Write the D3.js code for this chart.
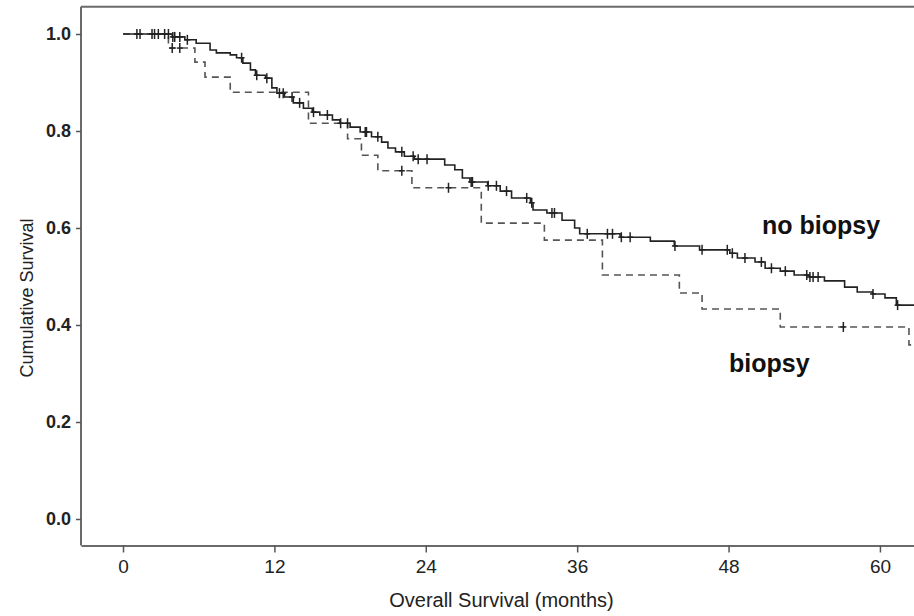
<!DOCTYPE html>
<html>
<head>
<meta charset="utf-8">
<script src="https://cdn.jsdelivr.net/npm/d3@7"></script>
<style>
body { margin: 0; background: #fff; }
svg { display: block; font-family: "Liberation Sans", Arial, sans-serif; }
</style>
</head>
<body>
<svg width="914" height="616"></svg>
<script>
// x ticks (months) and y ticks (cumulative survival)
var monthTicks = [0, 12, 24, 36, 48, 60];
var survivalTicks = [0.0, 0.2, 0.4, 0.6, 0.8, 1.0];

// no biopsy: [month of event, survival after the step]
var noBiopsySteps = [
    [0, 1.0], [3.9, 0.994], [4.9, 0.988], [5.8, 0.981], [6.9, 0.967], [7.4, 0.961],
    [8.5, 0.957], [9.0, 0.951], [9.5, 0.940], [10.1, 0.926], [10.5, 0.915], [11.3, 0.909],
    [11.8, 0.889], [12.2, 0.878], [12.8, 0.870], [13.5, 0.858], [14.3, 0.847], [15.0, 0.839],
    [15.6, 0.833], [16.6, 0.823], [17.2, 0.816], [18.0, 0.808], [18.8, 0.798], [19.7, 0.788],
    [20.5, 0.777], [21.0, 0.765], [21.6, 0.757], [22.3, 0.748], [23.1, 0.742], [25.5, 0.730],
    [26.3, 0.720], [26.9, 0.703], [27.5, 0.695], [28.9, 0.687], [29.9, 0.676], [30.8, 0.662],
    [32.3, 0.652], [32.5, 0.637], [33.6, 0.631], [34.8, 0.616], [35.8, 0.600], [36.2, 0.588],
    [39.4, 0.581], [41.8, 0.573], [43.7, 0.563], [45.7, 0.555], [48.1, 0.548], [48.7, 0.538],
    [50.1, 0.530], [50.9, 0.517], [52.1, 0.511], [53.2, 0.503], [54.4, 0.499], [55.6, 0.491],
    [57.2, 0.478], [58.2, 0.468], [59.4, 0.464], [60.4, 0.456], [61.3, 0.441], [62.7, 0.441]
];
var noBiopsyCensored = [
    1.1, 1.35, 2.3, 2.5, 2.8, 3.3, 3.6, 3.95, 4.1, 4.5, 5.1,
    9.4, 10.6, 11.4, 12.4, 12.7, 13.4, 14.0, 15.1, 16.2, 17.25, 17.8,
    19.2, 19.3, 20.2, 22.1, 23.0, 23.4, 24.1, 27.6, 27.7, 28.95, 29.6, 30.4, 32.0, 32.4,
    34.0, 34.2, 36.8, 38.4, 38.8, 39.5, 40.2, 43.75, 45.9, 47.9, 48.3, 49.3, 50.6, 51.4,
    52.5, 54.2, 54.45, 54.7, 55.1, 59.45, 61.4
];

// biopsy
var biopsySteps = [
    [0, 1.0], [3.6, 0.971], [5.7, 0.942], [6.5, 0.911], [8.5, 0.880], [14.7, 0.816],
    [17.8, 0.784], [18.9, 0.750], [20.2, 0.718], [22.9, 0.683], [28.4, 0.610],
    [33.4, 0.575], [38.0, 0.503], [44.1, 0.466], [45.9, 0.433], [52.1, 0.396],
    [62.3, 0.359], [62.7, 0.359]
];
var biopsyCensored = [3.9, 4.5, 22.1, 25.8, 57.1];

var groupLabels = ["no biopsy", "biopsy"];

var svg = d3.select("svg");

var x = d3.scaleLinear().domain([-3.33, 62.7]).range([81, 914]);
var y = d3.scaleLinear().domain([0, 1]).range([519, 34]);
var yBottom = -0.0546;
var yTop = 1.056;

function survivalAt(steps, t)
{
    var s = steps[0][1];
    for (var i = 0; i < steps.length; i++)
    {
        if (steps[i][0] <= t) s = steps[i][1];
    }
    return s;
}

function drawAxes()
{
    var xAxis = svg.append("g")
        .attr("transform", "translate(0," + y(yBottom) + ")")
        .call(d3.axisBottom(x).tickValues(monthTicks).tickSize(7).tickPadding(7).tickSizeOuter(0));
    var yAxis = svg.append("g")
        .attr("transform", "translate(" + x.range()[0] + ",0)")
        .call(d3.axisLeft(y).tickValues(survivalTicks).tickFormat(d3.format(".1f")).tickSize(5).tickPadding(5).tickSizeOuter(0));

    [xAxis, yAxis].forEach(function(g)
    {
        g.select(".domain").attr("stroke", "#6a6a6a").attr("stroke-width", 2);
        g.selectAll(".tick line").attr("stroke", "#555").attr("stroke-width", 1.5);
        g.selectAll(".tick text").attr("fill", "#222")
            .attr("font-family", "'Liberation Sans', Arial, sans-serif");
    });
    yAxis.select(".domain").attr("d", "M0," + y(yTop) + "V" + y(yBottom));
    xAxis.selectAll(".tick text").attr("font-size", 19);
    yAxis.selectAll(".tick text").attr("font-size", 18).attr("font-weight", "bold");

    // top frame line
    svg.append("line")
        .attr("x1", x.range()[0]).attr("x2", x.range()[1])
        .attr("y1", y(yTop)).attr("y2", y(yTop))
        .attr("stroke", "#6a6a6a").attr("stroke-width", 2);

    svg.append("text")
        .attr("x", x(30)).attr("y", 607)
        .attr("text-anchor", "middle")
        .attr("font-size", 20).attr("fill", "#222")
        .text("Overall Survival (months)");

    svg.append("text")
        .attr("transform", "translate(33,298) rotate(-90)")
        .attr("text-anchor", "middle")
        .attr("font-size", 18).attr("fill", "#222")
        .text("Cumulative Survival");
}

function drawCurve(steps, censored, dash)
{
    var line = d3.line()
        .x(function(d) { return x(d[0]); })
        .y(function(d) { return y(d[1]); })
        .curve(d3.curveStepAfter);

    svg.append("path")
        .datum(steps)
        .attr("d", line)
        .attr("fill", "none")
        .attr("stroke", dash ? "#555" : "#222")
        .attr("stroke-width", 1.6)
        .attr("stroke-dasharray", dash ? "7,5" : null);

    var marks = svg.append("g");
    censored.forEach(function(t)
    {
        var cx = x(t), cy = y(survivalAt(steps, t));
        marks.append("line")
            .attr("x1", cx).attr("x2", cx).attr("y1", cy - 5).attr("y2", cy + 5)
            .attr("stroke", "#222").attr("stroke-width", 1.5);
        marks.append("line")
            .attr("x1", cx - 3).attr("x2", cx + 3).attr("y1", cy).attr("y2", cy)
            .attr("stroke", "#222").attr("stroke-width", 1.5);
    });
}

function drawLabels()
{
    svg.append("text")
        .attr("x", 762).attr("y", 234)
        .attr("font-size", 25).attr("font-weight", "bold").attr("fill", "#111")
        .text(groupLabels[0]);
    svg.append("text")
        .attr("x", 729).attr("y", 372)
        .attr("font-size", 25).attr("font-weight", "bold").attr("fill", "#111")
        .text(groupLabels[1]);
}

drawAxes();
drawCurve(biopsySteps, biopsyCensored, true);
drawCurve(noBiopsySteps, noBiopsyCensored, false);
drawLabels();
</script>
</body>
</html>
